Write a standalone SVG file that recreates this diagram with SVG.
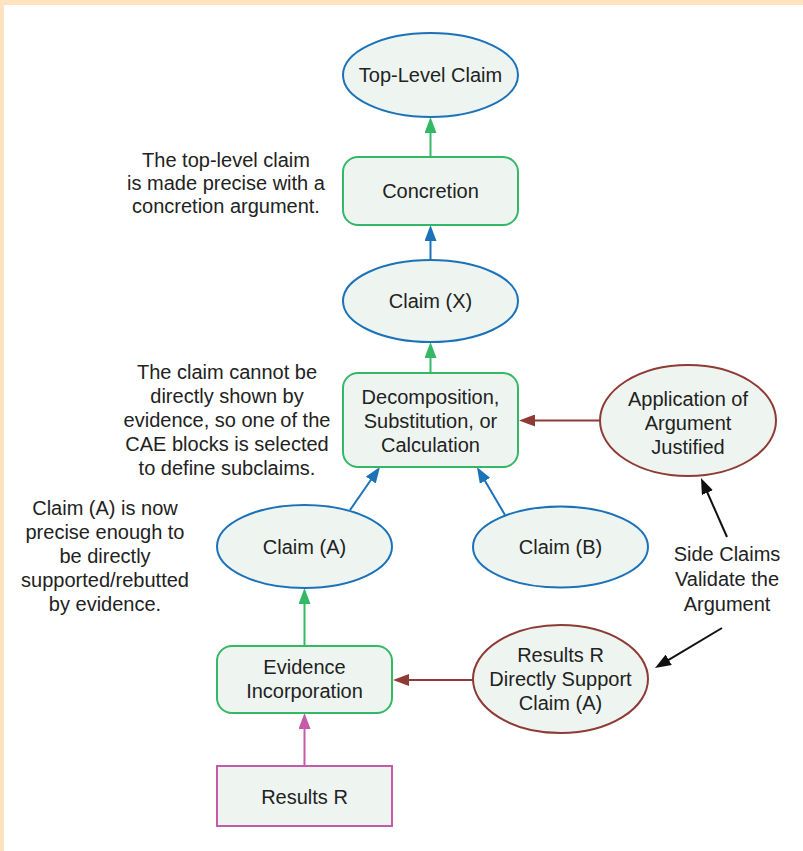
<svg xmlns="http://www.w3.org/2000/svg" width="803" height="851" viewBox="0 0 803 851">
  <style>
    text { font-family: "Liberation Sans", Arial, sans-serif; font-size: 20px; fill: #222; text-anchor: middle; }
    .node { fill: #eef5f1; stroke-width: 2; }
    .blue { stroke: #1b72b9; }
    .green { stroke: #34b866; }
    .red { stroke: #8e3a35; }
    .pink { stroke: #c45aa8; }
    .edge { fill: none; stroke-width: 2; }
    .black { stroke: #111; }
  </style>
  <defs>
    <marker id="ah-green" markerUnits="userSpaceOnUse" markerWidth="16" markerHeight="12" refX="4" refY="6" orient="auto">
      <path d="M0,0 L16,6 L0,12 z" fill="#34b866"/>
    </marker>
    <marker id="ah-blue" markerUnits="userSpaceOnUse" markerWidth="16" markerHeight="12" refX="4" refY="6" orient="auto">
      <path d="M0,0 L16,6 L0,12 z" fill="#1b72b9"/>
    </marker>
    <marker id="ah-red" markerUnits="userSpaceOnUse" markerWidth="16" markerHeight="12" refX="4" refY="6" orient="auto">
      <path d="M0,0 L16,6 L0,12 z" fill="#8e3a35"/>
    </marker>
    <marker id="ah-pink" markerUnits="userSpaceOnUse" markerWidth="16" markerHeight="12" refX="4" refY="6" orient="auto">
      <path d="M0,0 L16,6 L0,12 z" fill="#c45aa8"/>
    </marker>
    <marker id="ah-black" markerUnits="userSpaceOnUse" markerWidth="16" markerHeight="12" refX="4" refY="6" orient="auto">
      <path d="M0,0 L16,6 L0,12 z" fill="#111"/>
    </marker>
  </defs>

  <!-- page frame -->
  <rect x="0" y="0" width="803" height="851" fill="#fde3c0"/>
  <rect x="4" y="5" width="799" height="846" fill="#ffffff"/>

  <!-- connectors -->
  <g id="connectors">
    <line class="edge green" x1="430.5" y1="157" x2="430.5" y2="129" marker-end="url(#ah-green)"/>
    <line class="edge blue" x1="430.5" y1="260" x2="430.5" y2="237" marker-end="url(#ah-blue)"/>
    <line class="edge green" x1="430.5" y1="373" x2="430.5" y2="354" marker-end="url(#ah-green)"/>
    <line class="edge blue" x1="350" y1="510" x2="373.1" y2="476.8" marker-end="url(#ah-blue)"/>
    <line class="edge blue" x1="505" y1="515" x2="483" y2="477.4" marker-end="url(#ah-blue)"/>
    <line class="edge red" x1="600" y1="420.5" x2="531" y2="420.5" marker-end="url(#ah-red)"/>
    <line class="edge green" x1="304.5" y1="646" x2="304.5" y2="600" marker-end="url(#ah-green)"/>
    <line class="edge pink" x1="304.5" y1="766" x2="304.5" y2="725" marker-end="url(#ah-pink)"/>
    <line class="edge red" x1="473" y1="680" x2="405" y2="680" marker-end="url(#ah-red)"/>
    <line class="edge black" x1="727" y1="537" x2="705.8" y2="489" marker-end="url(#ah-black)"/>
    <line class="edge black" x1="722" y1="628" x2="665.3" y2="661.8" marker-end="url(#ah-black)"/>
  </g>

  <!-- nodes -->
  <g id="top-level-claim">
    <ellipse class="node blue" cx="430.5" cy="75" rx="87.5" ry="42"/>
    <text x="430.5" y="82">Top-Level Claim</text>
  </g>
  <g id="concretion">
    <rect class="node green" x="343" y="157" width="175" height="68" rx="15"/>
    <text x="430.5" y="198">Concretion</text>
  </g>
  <g id="claim-x">
    <ellipse class="node blue" cx="430.5" cy="301" rx="87.5" ry="41"/>
    <text x="430.5" y="308">Claim (X)</text>
  </g>
  <g id="decomposition">
    <rect class="node green" x="343" y="373" width="175" height="94" rx="15"/>
    <text x="430.5" y="404">Decomposition,</text>
    <text x="430.5" y="428">Substitution, or</text>
    <text x="430.5" y="452">Calculation</text>
  </g>
  <g id="application-justified">
    <ellipse class="node red" cx="688" cy="420.5" rx="88" ry="55.5"/>
    <text x="688" y="406">Application of</text>
    <text x="688" y="430">Argument</text>
    <text x="688" y="454">Justified</text>
  </g>
  <g id="claim-a">
    <ellipse class="node blue" cx="304.5" cy="546.5" rx="87.5" ry="41.5"/>
    <text x="304.5" y="554">Claim (A)</text>
  </g>
  <g id="claim-b">
    <ellipse class="node blue" cx="560.5" cy="547" rx="87.5" ry="40.5"/>
    <text x="560.5" y="554">Claim (B)</text>
  </g>
  <g id="evidence-incorporation">
    <rect class="node green" x="217" y="646" width="175" height="67" rx="15"/>
    <text x="304.5" y="674">Evidence</text>
    <text x="304.5" y="698">Incorporation</text>
  </g>
  <g id="results-support">
    <ellipse class="node red" cx="560.5" cy="679" rx="87.5" ry="54"/>
    <text x="560.5" y="662">Results R</text>
    <text x="560.5" y="686">Directly Support</text>
    <text x="560.5" y="710">Claim (A)</text>
  </g>
  <g id="results-r">
    <rect class="node pink" x="217" y="766" width="175" height="60"/>
    <text x="304.5" y="804">Results R</text>
  </g>

  <!-- annotations -->
  <g id="note-concretion">
    <text x="226" y="167">The top-level claim</text>
    <text x="226" y="190">is made precise with a</text>
    <text x="226" y="213">concretion argument.</text>
  </g>
  <g id="note-decomposition">
    <text x="227" y="379">The claim cannot be</text>
    <text x="227" y="403">directly shown by</text>
    <text x="227" y="427">evidence, so one of the</text>
    <text x="227" y="451">CAE blocks is selected</text>
    <text x="227" y="475">to define subclaims.</text>
  </g>
  <g id="note-claim-a">
    <text x="105" y="515">Claim (A) is now</text>
    <text x="105" y="539">precise enough to</text>
    <text x="105" y="563">be directly</text>
    <text x="105" y="587">supported/rebutted</text>
    <text x="105" y="611">by evidence.</text>
  </g>
  <g id="note-side-claims">
    <text x="727" y="561">Side Claims</text>
    <text x="727" y="586">Validate the</text>
    <text x="727" y="611">Argument</text>
  </g>
</svg>
